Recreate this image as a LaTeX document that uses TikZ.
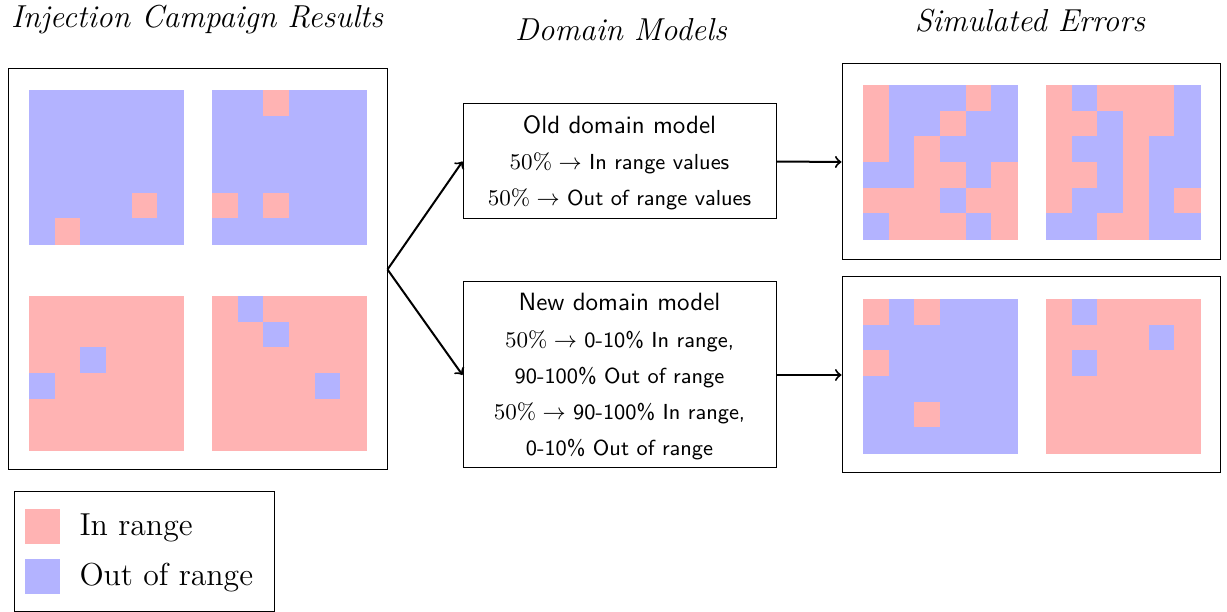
\documentclass[tikz,border=0pt]{standalone}
\usetikzlibrary{fit}
\definecolor{cellP}{RGB}{255,179,179}
\definecolor{cellB}{RGB}{179,179,255}

% 6x6 grid of coloured cells; #1,#2 = top-left corner, #3 = rows of P/B
\newcommand{\cellgrid}[3]{%
  \foreach \cells [count=\r from 0] in {#3} {
    \foreach \c [count=\k from 0] in \cells {
      \path[cell, fill=cell\c, draw=cell\c]
        ({#1+\k*25.6667},{#2+\r*25.6667}) rectangle +(25.6667,25.6667);
    }
  }%
}

\begin{document}
\begin{tikzpicture}[x=0.4pt,y=-0.4pt,
  frame/.style={draw, thin, inner sep=0pt},
  cell/.style={line width=0.1pt},
  heading/.style={font=\fontsize{12.7}{15}\selectfont\itshape, anchor=base, inner sep=0pt},
  modeltext/.style={align=center, inner sep=0pt, font=\sffamily\fontsize{8.7}{14.5}\selectfont},
  swatch/.style={minimum size=14pt, inner sep=0pt},
  legendtext/.style={font=\fontsize{12.7}{15}\selectfont, anchor=base west, inner sep=0pt},
  link/.style={->, thick}]
\useasboundingbox (0,0) rectangle (1227,612);

% headings
\node[heading] (h1) at (197,28) {Injection Campaign Results};
\node[heading] (h2) at (621,41) {Domain Models};
\node[heading] (h3) at (1030,32) {Simulated Errors};

% injection campaign results
\node[frame, fit={(8,69) (387,470)}] (res) {};
\cellgrid{29}{90}{{B,B,B,B,B,B},{B,B,B,B,B,B},{B,B,B,B,B,B},{B,B,B,B,B,B},{B,B,B,B,P,B},{B,P,B,B,B,B}}
\cellgrid{212}{90}{{B,B,P,B,B,B},{B,B,B,B,B,B},{B,B,B,B,B,B},{B,B,B,B,B,B},{P,B,P,B,B,B},{B,B,B,B,B,B}}
\cellgrid{29}{296}{{P,P,P,P,P,P},{P,P,P,P,P,P},{P,P,B,P,P,P},{B,P,P,P,P,P},{P,P,P,P,P,P},{P,P,P,P,P,P}}
\cellgrid{212}{296}{{P,B,P,P,P,P},{P,P,B,P,P,P},{P,P,P,P,P,P},{P,P,P,P,B,P},{P,P,P,P,P,P},{P,P,P,P,P,P}}

% domain models
\node[frame, fit={(463,104) (776,219)}] (old) {};
\node[modeltext] (oldtext) at (619.5,163)
  {{\fontsize{10}{14.5}\selectfont Old domain model}\\
   $50\%\rightarrow$ In range values\\
   $50\%\rightarrow$ Out of range values};
\node[frame, fit={(463,282) (776,468)}] (new) {};
\node[modeltext] (newtext) at (619.5,377)
  {{\fontsize{10}{14.5}\selectfont New domain model}\\
   $50\%\rightarrow$ 0-10\% In range,\\
   90-100\% Out of range\\
   $50\%\rightarrow$ 90-100\% In range,\\
   0-10\% Out of range};

% simulated errors
\node[frame, fit={(842,64) (1220,260)}] (simold) {};
\node[frame, fit={(842,277) (1220,473)}] (simnew) {};
\cellgrid{863}{85}{{P,B,B,B,P,B},{P,B,B,P,B,B},{P,B,P,B,B,B},{B,B,P,P,B,P},{P,P,P,B,P,P},{B,P,P,P,B,P}}
\cellgrid{1046}{85}{{P,B,P,P,P,B},{P,P,B,P,P,B},{P,B,B,P,B,B},{P,P,B,P,B,B},{P,B,B,P,B,P},{B,B,P,P,B,B}}
\cellgrid{863}{299}{{P,B,P,B,B,B},{B,B,B,B,B,B},{P,B,B,B,B,B},{B,B,B,B,B,B},{B,B,P,B,B,B},{B,B,B,B,B,B}}
\cellgrid{1046}{299}{{P,B,P,P,P,P},{P,P,P,P,B,P},{P,B,P,P,P,P},{P,P,P,P,P,P},{P,P,P,P,P,P},{P,P,P,P,P,P}}

% connectors
\draw[link] (res.east) -- (old.west);
\draw[link] (res.east) -- (new.west);
\draw[link] (old.east) -- (simold.west);
\draw[link] (new.east) -- (simnew.west);

% legend
\node[frame, fit={(14,491) (274,611)}] (legend) {};
\node[swatch, fill=cellP] (swP) at (42.5,526.5) {};
\node[swatch, fill=cellB] (swB) at (42.5,576.5) {};
\node[legendtext] (lP) at (79,535) {In range};
\node[legendtext] (lB) at (79,585) {Out of range};
\end{tikzpicture}
\end{document}
